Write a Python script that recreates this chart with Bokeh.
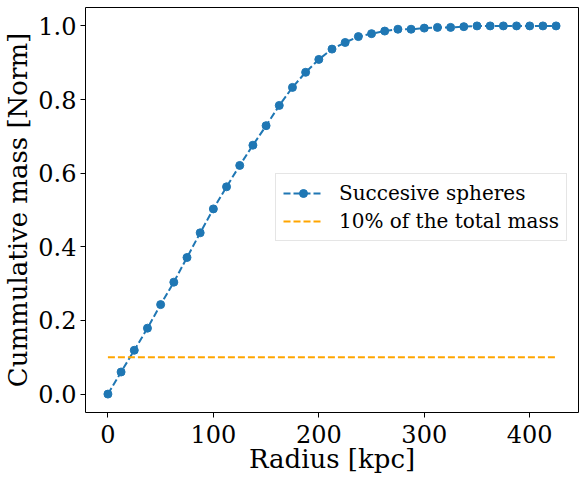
from bokeh.plotting import figure
from bokeh.models import (Range1d, FixedTicker, Legend, LegendItem, ColumnDataSource,
                          CustomJSTickFormatter)
from bokeh.embed import file_html
from bokeh.resources import INLINE

radius = [0, 12.5, 25, 37.5, 50, 62.5, 75, 87.5, 100, 112.5, 125, 137.5, 150, 162.5,
          175, 187.5, 200, 212.5, 225, 237.5, 250, 262.5, 275, 287.5, 300, 312.5, 325,
          337.5, 350, 362.5, 375, 387.5, 400, 412.5, 425]
cum_mass = [0.0, 0.060, 0.119, 0.179, 0.243, 0.304, 0.371, 0.438, 0.503, 0.563, 0.621,
            0.676, 0.729, 0.784, 0.833, 0.874, 0.909, 0.937, 0.955, 0.971, 0.979, 0.986,
            0.991, 0.991, 0.994, 0.996, 0.996, 0.998, 1.0, 1.0, 1.0, 1.0, 1.0, 1.0, 1.0]
threshold = 0.1
x_ticks = [0, 100, 200, 300, 400]
y_ticks = [0.0, 0.2, 0.4, 0.6, 0.8, 1.0]
x_label = "Radius [kpc]"
y_label = "Cummulative mass [Norm]"
legend_labels = ["Succesive spheres", "10% of the total mass"]

FONT = "DejaVu Serif"
X_MIN, X_MAX = -21.25, 446.25
Y_MIN, Y_MAX = -0.05, 1.05

p = figure(width=584, height=480, output_backend="svg", toolbar_location=None,
           x_range=Range1d(X_MIN, X_MAX), y_range=Range1d(Y_MIN, Y_MAX),
           min_border_left=85, min_border_right=6, min_border_top=7, min_border_bottom=68)
p.background_fill_color = "white"
p.border_fill_color = "white"
p.grid.visible = False
p.outline_line_color = "black"
p.outline_line_width = 1

src = ColumnDataSource(dict(x=radius, y=cum_mass))
l1 = p.line("x", "y", source=src, line_color="#1f77b4", line_width=2, line_dash="7 3")
s1 = p.scatter("x", "y", source=src, size=8, fill_color="#1f77b4", line_color="#1f77b4")
l2 = p.line(x=[radius[0], radius[-1]], y=[threshold, threshold], line_color="#ffa500",
            line_width=2, line_dash="7 3")

for ax in (p.xaxis[0], p.yaxis[0]):
    ax.axis_line_color = None
    ax.major_tick_line_color = "black"
    ax.major_tick_out = 5
    ax.major_tick_in = 0
    ax.minor_tick_line_color = None
    ax.major_label_text_font = FONT
    ax.major_label_text_font_size = "24px"
    ax.major_label_text_color = "black"
    ax.axis_label_text_font = FONT
    ax.axis_label_text_font_size = "26px"
    ax.axis_label_text_font_style = "normal"
    ax.axis_label_text_color = "black"

p.xaxis[0].ticker = FixedTicker(ticks=x_ticks)
p.yaxis[0].ticker = FixedTicker(ticks=y_ticks)
p.yaxis[0].formatter = CustomJSTickFormatter(code="return tick.toFixed(1);")
p.xaxis[0].axis_label = x_label
p.yaxis[0].axis_label = y_label
p.xaxis[0].major_label_standoff = 7
p.xaxis[0].axis_label_standoff = -2
p.yaxis[0].major_label_standoff = 4
p.yaxis[0].axis_label_standoff = 2

legend = Legend(items=[LegendItem(label=legend_labels[0], renderers=[l1, s1]),
                       LegendItem(label=legend_labels[1], renderers=[l2])],
                location=(190, 171))
legend.label_text_font = FONT
legend.label_text_font_size = "20px"
legend.label_text_color = "black"
legend.glyph_width = 40
legend.glyph_height = 20
legend.label_height = 20
legend.label_standoff = 16
legend.spacing = 4
legend.padding = 7
legend.margin = 0
legend.border_line_color = "#cccccc"
legend.border_line_width = 1
legend.background_fill_color = "white"
legend.background_fill_alpha = 0.8
p.add_layout(legend, "center")

open("out.html", "w").write(file_html(p, INLINE))
